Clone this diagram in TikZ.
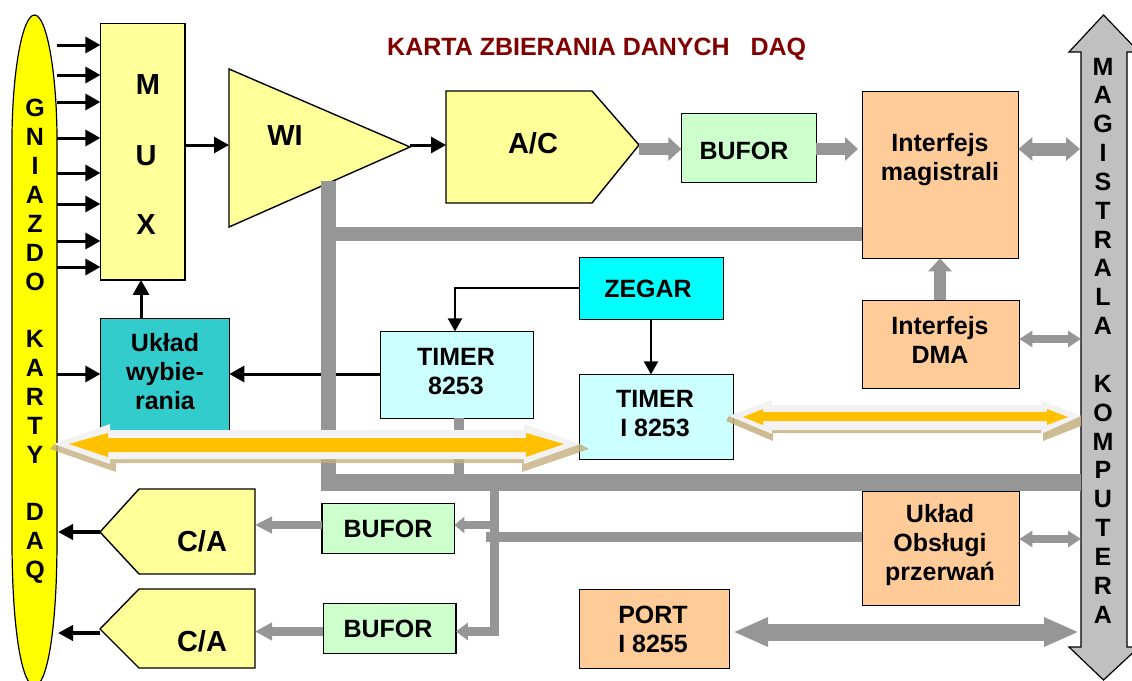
\documentclass[tikz,border=0pt]{standalone}
\usepackage{fontspec}
\setmainfont{Liberation Sans}
\usetikzlibrary{arrows.meta,shapes.geometric,calc}
\definecolor{yel}{HTML}{FFFF99}
\definecolor{ora}{HTML}{FFCC99}
\definecolor{grn}{HTML}{CCFFCC}
\definecolor{lcy}{HTML}{CCFFFF}
\definecolor{cyn}{HTML}{00FFFF}
\definecolor{tea}{HTML}{33CCCC}
\definecolor{gry}{HTML}{969696}
\definecolor{mag}{HTML}{C0C0C0}
\definecolor{lite}{HTML}{F2F2F2}
\definecolor{shad}{HTML}{C4AF7E}
\definecolor{amber}{HTML}{FFC000}
\definecolor{maroon}{HTML}{800000}
\definecolor{yelb}{HTML}{FFFF00}
\tikzset{
 txt/.style={font=\fontsize{25}{29}\selectfont\bfseries,align=center,inner sep=0pt},
 large/.style={font=\fontsize{29}{33}\selectfont\bfseries,align=center,inner sep=0pt},
 stack/.style={font=\fontsize{25}{28.85}\selectfont\bfseries,align=center,inner sep=0pt},
 blk/.style={draw=black,line width=1.4pt,inner sep=0pt,outer sep=0pt},
 sigA/.style={draw=black,line width=3pt,-{Triangle[length=15pt,width=16pt]}},
 sigB/.style={draw=black,line width=2pt,-{Triangle[length=13pt,width=14pt]}},
 sigC/.style={draw=black,line width=4pt,-{Triangle[length=15pt,width=15pt]}},
 bar/.style={draw=gry,line width=#1},
 fat/.style={draw=gry,line width=12pt,-{Triangle[length=13pt,width=23pt]}},
 fatd/.style={draw=gry,line width=13pt,{Triangle[length=14pt,width=23pt]}-{Triangle[length=14pt,width=23pt]}},
 thind/.style={draw=gry,line width=8pt,{Triangle[length=13pt,width=16pt]}-{Triangle[length=13pt,width=16pt]}},
 big/.style={draw=gry,line width=17pt,{Triangle[length=35pt,width=27pt]}-{Triangle[length=35pt,width=27pt]}},
}
\newcommand{\bx}[8]{\node[blk,fill=#6,minimum width=#4pt-#2pt,minimum height=#5pt-#3pt,anchor=north west] (#1) at (#2+0.4,#3+0.4) {};\node[txt] (#1t) at (#7) {#8}}
\begin{document}
\begin{tikzpicture}[x=1pt,y=-1pt]
\useasboundingbox (0,0) rectangle (1132,680);
\clip (0,0) rectangle (1132,680);
% side shapes
\draw[black,line width=1.2pt,fill=yelb] (34.5,15) .. controls (22,15) and (12,75) .. (12,140) -- (12,540) .. controls (12,630) and (22,686) .. (34.5,686) .. controls (47,686) and (57,630) .. (57,540) -- (57,140) .. controls (57,75) and (47,15) .. (34.5,15) -- cycle;
\node[stack] (gniazdot) at (35,341.5) {G\\N\\I\\A\\Z\\D\\O\\~\\K\\A\\R\\T\\Y\\~\\D\\A\\Q};
\draw[black,line width=1.2pt,fill=mag] (1103.5,15) -- (1139,52) -- (1127,52) -- (1127,647) -- (1139,647) -- (1103.5,680) -- (1069,647) -- (1081,647) -- (1081,52) -- (1069,52) -- cycle;
\node[stack] (magt) at (1103,340.5) {M\\A\\G\\I\\S\\T\\R\\A\\L\\A\\~\\K\\O\\M\\P\\U\\T\\E\\R\\A};
\node[font=\fontsize{25}{29}\selectfont\bfseries,text=maroon,anchor=west,inner sep=0pt] (title) at (387,49) {KARTA ZBIERANIA DANYCH\ \ \ DAQ};
% boxes
\bx{mux}{100}{23}{184.5}{279.5}{yel}{146,156}{};
\node[large] (muxm) at (148,85) {M};
\node[large] (muxu) at (146,156) {U};
\node[large] (muxx) at (146,225) {X};
\draw[blk,fill=yel] (229,69) -- (410,147) -- (229,227) -- cycle;
\coordinate (wiin) at (229,145); \coordinate (wiout) at (410,145);
\node[large] (wit) at (285,136) {WI};
\draw[blk,fill=yel] (446,91) -- (592,91) -- (639,145) -- (592,203) -- (446,203) -- cycle;
\coordinate (acin) at (446,145); \coordinate (acout) at (639,149);
\node[large] (act) at (533,143) {A/C};
\bx{bufa}{681}{113}{816}{182}{grn}{744,151}{BUFOR};
\bx{imag}{862}{91}{1018}{258}{ora}{940,160}{Interfejs\\magistrali};
\bx{idma}{862}{300}{1019}{388}{ora}{940,340}{Interfejs\\DMA};
\bx{zegar}{579}{257}{723}{319}{cyn}{648,289}{ZEGAR};
\bx{timb}{380}{331}{533}{418}{lcy}{456,372}{TIMER\\8253};
\bx{timc}{579}{374}{733}{459}{lcy}{655,414}{TIMER\\I 8253};
\bx{uklad}{100}{318}{229}{432}{tea}{165,372}{Układ\\wybie-\\rania};
\bx{obs}{862}{491}{1019}{605}{ora}{940,545}{Układ\\Obsługi\\przerwań};
\bx{port}{579}{589}{729}{668}{ora}{653,629}{PORT\\I 8255};
\bx{bufb}{321.5}{503}{454}{553}{grn}{388,529}{BUFOR};
\bx{bufc}{323}{603}{455.5}{653}{grn}{388,629}{BUFOR};
\draw[blk,fill=yel] (100,532) -- (139,489) -- (255,489) -- (255,574) -- (139,574) -- cycle;
\draw[blk,fill=yel] (100,629) -- (139,589) -- (255,589) -- (255,668) -- (139,668) -- cycle;
\coordinate (caa) at (100,532); \coordinate (cab) at (100,633);
\coordinate (caain) at (255,525); \coordinate (cabin) at (255,631.5);
\node[large] (caat) at (202,541) {C/A};
\node[large] (cabt) at (202,641) {C/A};
% signal connectors
\foreach \n/\y in {a/45,b/75,c/102,d/138,e/173,f/204,g/241,h/267}{
  \coordinate (in\n) at (57,\y);
  \draw[sigA] (in\n) -- (in\n -| mux.west);
}
\coordinate (inu) at (57,374);
\draw[sigA] (inu) -- (inu -| uklad.west);
\draw[sigA] (mux.east |- wiin) -- (wiin);
\draw[sigA] (wiout) -- (acin);
\coordinate (xsel) at (141,0);
\draw[sigA] (uklad.north -| xsel) -- (mux.south -| xsel);
\draw[sigA] (timb.west |- inu) -- (uklad.east |- inu);
\coordinate (xtb) at (455,0);
\draw[sigB] (zegar.west) -| (timb.north -| xtb);
\coordinate (xtc) at (651,0);
\draw[sigB] (zegar.south -| xtc) -- (timc.north -| xtc);
\coordinate (gna) at (58,532); \coordinate (gnb) at (58,633);
\draw[sigC] (caa) -- (gna);
\draw[sigC] (cab) -- (gnb);
% gray bus
\coordinate (busT) at (328.5,181); \coordinate (busC) at (328.5,491);
\coordinate (busL) at (321,482.5); \coordinate (busR) at (1081,482.5);
\coordinate (busM) at (328.5,234);
\coordinate (tbot) at (459,482);
\coordinate (dn) at (494.5,491); \coordinate (dnb) at (494.5,631.5);
\coordinate (dna) at (494.5,525);
\coordinate (obl) at (486,537);
\draw[bar=15pt] (busT) -- (busC);
\draw[bar=17pt] (busL) -- (busR);
\draw[bar=14pt] (busM) -- (busM -| imag.west);
\draw[bar=10pt] (timb.south -| tbot) -- (tbot);
\draw[bar=10pt] (obs.west |- obl) -- (obl);
\draw[draw=gry,line width=9pt,line join=miter,-{Triangle[length=12pt,width=17pt]}] (dn) -- (dnb) -- (bufc.east |- dnb);
\draw[draw=gry,line width=8pt,-{Triangle[length=10pt,width=16pt]}] (dna) -- (bufb.east |- dna);
\draw[draw=gry,line width=8pt,-{Triangle[length=17pt,width=16pt]}] (bufb.west |- caain) -- (caain);
\draw[draw=gry,line width=9pt,-{Triangle[length=17pt,width=17pt]}] (bufc.west |- cabin) -- (cabin);
% block arrows
\draw[fat] (acout) -- (acout -| bufa.west);
\coordinate (bfo) at (816,149); \coordinate (bfe) at (858,149);
\draw[fat] (bfo) -- (bfe);
\coordinate (mga) at (1080,149);
\draw[fatd] (imag.east |- mga) -- (mga);
\coordinate (xdm) at (940,0);
\draw[fat] (idma.north -| xdm) -- (imag.south -| xdm);
\coordinate (mgb) at (1081,339);
\draw[thind] (idma.east |- mgb) -- (mgb);
\coordinate (mgc) at (1081,539);
\draw[thind] (obs.east |- mgc) -- (mgc);
\coordinate (pl) at (733,632); \coordinate (pr) at (1079,632);
\draw[big] (pl) -- (pr);
% shadowed bus arrows
\fill[shad,fill opacity=.8] (50,449) -- (116,472) -- (116,463) -- (522,463) -- (522,472) -- (589,449) -- (580,444) -- (524,430) -- (110,430) -- (54,444) -- cycle;
\fill[lite] (54,444) -- (110,424) -- (110,430) -- (524,430) -- (524,424) -- (580,444) -- (524,464) -- (524,459) -- (110,459) -- (110,464) -- cycle;
\fill[amber] (69,444) -- (108,433) -- (108,438) -- (526,438) -- (526,433) -- (564,444) -- (526,457) -- (526,452) -- (108,452) -- (108,457) -- cycle;
\fill[shad,fill opacity=.85] (726,421) -- (773,441) -- (773,433) -- (1043,433) -- (1043,441) -- (1081,426) -- (1081,416) -- (1041,405) -- (772,405) -- (729,416) -- cycle;
\fill[lite] (729,416) -- (772,400) -- (772,405) -- (1041,405) -- (1041,400) -- (1081,416) -- (1041,434) -- (1041,430) -- (772,430) -- (772,434) -- cycle;
\fill[amber] (743,417) -- (763,409) -- (763,412) -- (1047,412) -- (1047,409) -- (1068,417) -- (1047,425) -- (1047,421) -- (763,421) -- (763,425) -- cycle;
\end{tikzpicture}
\end{document}
